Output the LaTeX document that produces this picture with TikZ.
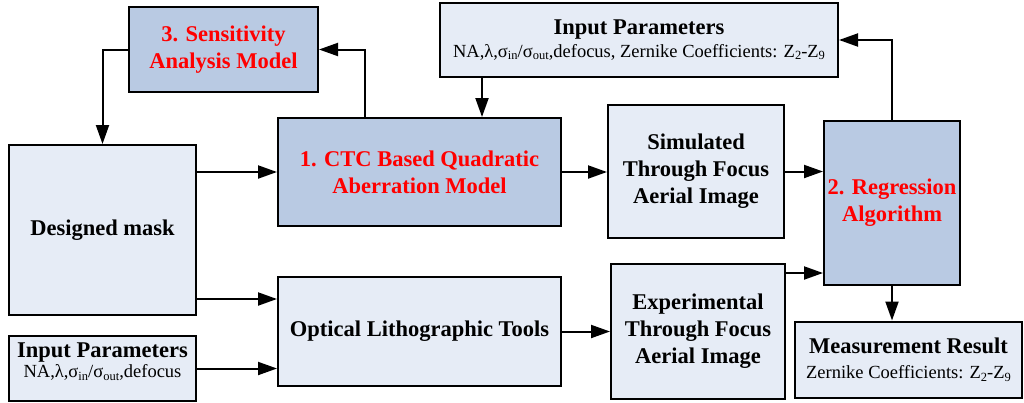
\documentclass[tikz,border=0pt]{standalone}
\usepackage{fontspec}
\setmainfont{Liberation Serif}
\usetikzlibrary{arrows.meta,calc}
\definecolor{darkfill}{RGB}{185,202,227}
\definecolor{lightfill}{RGB}{230,236,246}
\definecolor{redtxt}{RGB}{255,0,0}
\newcommand\lowsub[1]{\raisebox{-0.3ex}{\fontsize{12.5}{12.5}\selectfont #1}}
\newcommand\smalltext{\fontsize{18.5}{27}\selectfont\mdseries}
\tikzset{
 box/.style={draw=black, line width=2pt, inner sep=0pt, align=center, font=\fontsize{22.5}{27}\selectfont\bfseries},
 dbox/.style={box, fill=darkfill, text=redtxt},
 lbox/.style={box, fill=lightfill},
 conn/.style={line width=2pt, -{Triangle[length=19pt,width=13pt]}},
}
\begin{document}
\begin{tikzpicture}[x=1pt,y=-1pt]
\useasboundingbox (0,0) rectangle (1024,402);
\node[dbox, minimum width=189pt, minimum height=85pt] (S) at (223.5,49.5) {3. Sensitivity\\Analysis Model};
\node[lbox, minimum width=398pt, minimum height=74pt] (IPT) at (639,40) {Input Parameters\\[-4pt]\smalltext NA,λ,σ\lowsub{in}/σ\lowsub{out},defocus, Zernike Coefficients: Z\lowsub{2}-Z\lowsub{9}};
\node[lbox, minimum width=187pt, minimum height=170pt] (mask) at (102.5,230) {Designed mask};
\node[dbox, minimum width=283pt, minimum height=108pt] (CTC) at (419.5,172) {1. CTC Based Quadratic\\Aberration Model};
\node[lbox, minimum width=176pt, minimum height=133pt] (Sim) at (696,171.5) {Simulated\\Through Focus\\Aerial Image};
\node[dbox, minimum width=136pt, minimum height=164pt] (Reg) at (892,203) {2. Regression\\Algorithm};
\node[lbox, minimum width=283pt, minimum height=109pt] (Opt) at (419.5,331.5) {Optical Lithographic Tools};
\node[lbox, minimum width=174pt, minimum height=135pt] (Exp) at (698,331.5) {Experimental\\Through Focus\\Aerial Image};
\node[lbox, minimum width=227pt, minimum height=76pt] (Meas) at (908.5,359.5) {Measurement Result\\[-2pt]\smalltext Zernike Coefficients: Z\lowsub{2}-Z\lowsub{9}};
\node[lbox, minimum width=187pt, minimum height=65pt, text depth=16pt] (bip) at (102.5,368.5) {Input Parameters\\[-7pt]\smalltext NA,λ,σ\lowsub{in}/σ\lowsub{out},defocus};
% connectors
\draw[conn] (S.west) -| (mask.north);
\coordinate (ctcup) at ([xshift=88pt]CTC.north west);
\draw[conn] (ctcup) |- (S.east);
\coordinate (iptdown) at ([xshift=43pt]IPT.south west);
\draw[conn] (iptdown) -- (iptdown |- CTC.north);
\draw[conn] (mask.east |- CTC.west) -- (CTC.west);
\coordinate (optin) at ([yshift=32.5pt]Opt.west);
\draw[conn] (optin -| mask.east) -- (optin);
\draw[conn] (bip.east) -- (bip.east -| Opt.west);
\draw[conn] (CTC.east) -- (CTC.east -| Sim.west);
\draw[conn] (Sim.east) -- (Sim.east -| Reg.west);
\draw[conn] (Opt.east) -- (Opt.east -| Exp.west);
\coordinate (expout) at ([yshift=-10pt]Exp.north east);
\draw[conn] (expout) -- (expout -| Reg.west);
\draw[conn] (Reg.south) -- (Reg.south |- Meas.north);
\draw[conn] (Reg.north) |- (IPT.east);
\end{tikzpicture}
\end{document}
